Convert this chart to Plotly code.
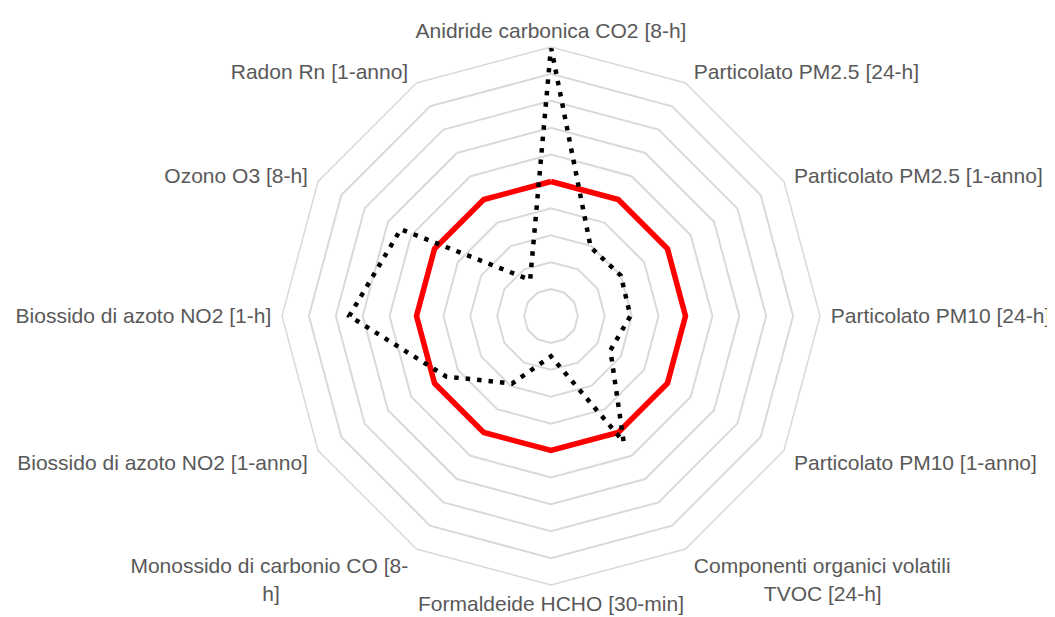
import math
import plotly.graph_objects as go

categories = [
    "Anidride carbonica CO2 [8-h]",
    "Particolato PM2.5 [24-h]",
    "Particolato PM2.5 [1-anno]",
    "Particolato PM10 [24-h]",
    "Particolato PM10 [1-anno]",
    "Componenti organici volatili TVOC [24-h]",
    "Formaldeide HCHO [30-min]",
    "Monossido di carbonio CO [8-h]",
    "Biossido di azoto NO2 [1-anno]",
    "Biossido di azoto NO2 [1-h]",
    "Ozono O3 [8-h]",
    "Radon Rn [1-anno]",
]
# wrapped display versions of the long labels: (line 1, line 2, centring pad in NBSPs)
wrapped_labels = {
    "Componenti organici volatili TVOC [24-h]": ("Componenti organici volatili", "TVOC [24-h]", 12),
    "Monossido di carbonio CO [8-h]": ("Monossido di carbonio CO [8-", "h]", 22),
}
limit_values = [100] * 12
measured_values = [200, 59, 60, 59, 51, 108, 30, 58, 90, 150, 129, 31]

NB = "\u00a0"


def tick_label(i, cat):
    ang = 90 - i * 360 / len(categories)
    side = math.cos(math.radians(ang))
    if cat in wrapped_labels:
        l1, l2, n = wrapped_labels[cat]
        lines = [l1, (NB * n + l2) if side > 0.1 else (l2 + NB * n)]
    else:
        lines = [cat]
    if side > 0.1:
        lines = [NB + l for l in lines]
    elif side < -0.1:
        lines = [l + NB for l in lines]
    return "<br>".join(lines)


ticktext = [tick_label(i, c) for i, c in enumerate(categories)]
theta_closed = categories + categories[:1]

fig = go.Figure()
fig.add_trace(go.Scatterpolar(
    r=limit_values + limit_values[:1], theta=theta_closed, mode="lines",
    line=dict(color="#ff0000", width=5.5), name="Limite", showlegend=False,
))
fig.add_trace(go.Scatterpolar(
    r=measured_values + measured_values[:1], theta=theta_closed, mode="lines",
    line=dict(color="#000000", width=4.5, dash="4.5px,7px"), name="Misura", showlegend=False,
))

cx, cy, R = 543, 308, 269
fig.update_layout(
    width=1055, height=617,
    margin=dict(l=0, r=0, t=0, b=0),
    paper_bgcolor="white",
    font=dict(family="Liberation Sans, Arial, sans-serif", size=21, color="#595959"),
    polar=dict(
        bgcolor="white",
        domain=dict(x=[(cx - R) / 1055, (cx + R) / 1055],
                    y=[1 - (cy + R) / 617, 1 - (cy - R) / 617]),
        gridshape="linear",
        radialaxis=dict(range=[0, 200], dtick=20, showticklabels=False, ticks="",
                        showline=False, gridcolor="#d9d9d9", gridwidth=1.5),
        angularaxis=dict(rotation=90, direction="clockwise", showgrid=False,
                         showline=True, linecolor="#d9d9d9", linewidth=1.5, ticks="",
                         tickmode="array", tickvals=categories, ticktext=ticktext,
                         tickfont=dict(size=21, color="#595959")),
    ),
)
fig.write_html("out.html")
